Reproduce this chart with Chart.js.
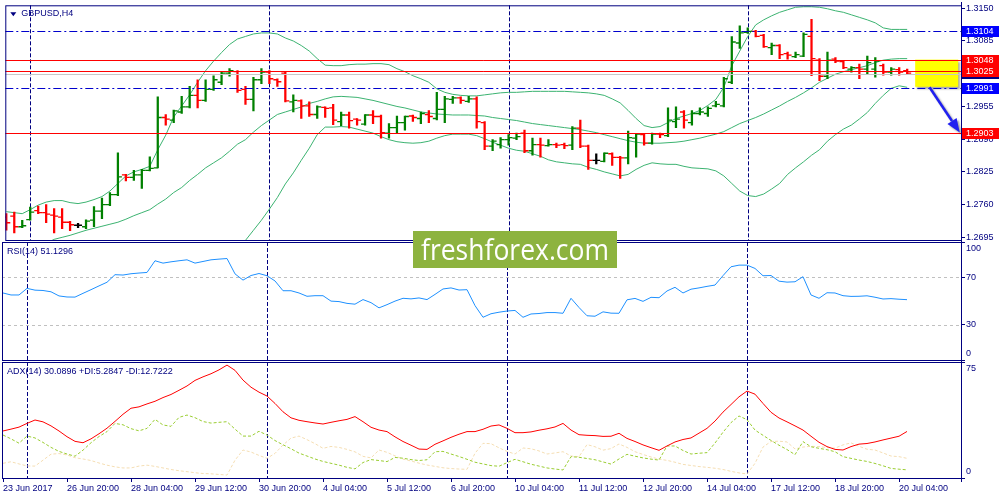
<!DOCTYPE html>
<html>
<head>
<meta charset="utf-8">
<script src="https://cdn.jsdelivr.net/npm/chart.js@4.4.1/dist/chart.umd.min.js"></script>
<style>
html,body{margin:0;padding:0;background:#fff;}
#wrap{position:relative;width:1000px;height:500px;overflow:hidden;background:#fff;}
canvas{position:absolute;left:0;top:0;}
</style>
</head>
<body>
<div id="wrap">
<canvas id="cMain" width="1000" height="500"></canvas>
<canvas id="cRsi" width="1000" height="500"></canvas>
<canvas id="cAdx" width="1000" height="500"></canvas>
</div>
<script>
// ================= DATA =================
const symbol = 'GBPUSD';
const timeframe = 'H4';
const tickLabels = ['23 Jun 2017','26 Jun 20:00','28 Jun 04:00','29 Jun 12:00','30 Jun 20:00','4 Jul 04:00','5 Jul 12:00','6 Jul 20:00','10 Jul 04:00','11 Jul 12:00','12 Jul 20:00','14 Jul 04:00','17 Jul 12:00','18 Jul 20:00','20 Jul 04:00'];
const barsPerLabel = 8;
const weekStartBars = [3, 33, 63, 93];
const priceTicks = [1.3150, 1.3085, 1.3020, 1.2955, 1.2890, 1.2825, 1.2760, 1.2695];
const rsiTicks = [0, 30, 70, 100];
const rsiLevels = [70, 30];
const adxTicks = [0, 75];

const opens = [1.2735,1.2737,1.2716,1.2730,1.2748,1.2744,1.2739,1.2735,1.2725,1.2719,
1.2716,1.2729,1.2747,1.2760,1.2780,1.2819,1.2814,1.2819,1.2828,1.2833,
1.2933,1.2928,1.2944,1.2954,1.2977,1.2967,1.2989,1.3003,1.3021,1.3024,
1.2989,1.2969,1.3008,1.3023,1.3008,1.3021,1.2964,1.2966,1.2956,1.2939,
1.2953,1.2952,1.2925,1.2938,1.2930,1.2920,1.2938,1.2935,1.2902,1.2913,
1.2923,1.2936,1.2931,1.2939,1.2931,1.2949,1.2969,1.2972,1.2965,1.2970,
1.2923,1.2876,1.2879,1.2889,1.2892,1.2902,1.2867,1.2879,1.2877,1.2879,
1.2879,1.2878,1.2912,1.2876,1.2848,1.2846,1.2861,1.2854,1.2853,1.2892,
1.2899,1.2882,1.2900,1.2897,1.2925,1.2944,1.2923,1.2941,1.2941,1.2956,
1.2956,1.3003,1.3081,1.3102,1.3104,1.3096,1.3072,1.3076,1.3060,1.3054,
1.3055,1.3094,1.3047,1.3015,1.3049,1.3044,1.3029,1.3032,1.3029,1.3029,
1.3036,1.3023,1.3028,1.3026];
const highs = [1.2742,1.2745,1.2729,1.2755,1.2757,1.2760,1.2752,1.2752,1.2727,1.2723,
1.2730,1.2756,1.2773,1.2784,1.2863,1.2820,1.2828,1.2830,1.2855,1.2974,
1.2939,1.2948,1.2975,1.2995,1.3008,1.3008,1.3016,1.3023,1.3030,1.3026,
1.2995,1.3013,1.3030,1.3026,1.3010,1.3023,1.2978,1.2968,1.2964,1.2956,
1.2954,1.2959,1.2944,1.2944,1.2931,1.2939,1.2947,1.2938,1.2921,1.2936,
1.2936,1.2938,1.2944,1.2947,1.2983,1.2975,1.2975,1.2974,1.2975,1.2974,
1.2925,1.2889,1.2893,1.2899,1.2902,1.2908,1.2892,1.2892,1.2889,1.2882,
1.2882,1.2915,1.2928,1.2878,1.2861,1.2863,1.2863,1.2856,1.2906,1.2900,
1.2900,1.2902,1.2902,1.2952,1.2954,1.2947,1.2947,1.2952,1.2954,1.2965,
1.3013,1.3094,1.3115,1.3111,1.3106,1.3098,1.3081,1.3078,1.3063,1.3063,
1.3101,1.3128,1.3050,1.3063,1.3052,1.3045,1.3034,1.3039,1.3055,1.3052,
1.3039,1.3032,1.3032,1.3029];
const lows = [1.2709,1.2704,1.2714,1.2729,1.2742,1.2724,1.2704,1.2712,1.2708,1.2714,
1.2712,1.2716,1.2732,1.2758,1.2778,1.2807,1.2808,1.2792,1.2827,1.2833,
1.2918,1.2923,1.2941,1.2952,1.2952,1.2965,1.2987,1.2998,1.3015,1.2983,
1.2959,1.2946,1.3000,1.3000,1.2995,1.2964,1.2944,1.2931,1.2935,1.2931,
1.2933,1.2919,1.2917,1.2912,1.2918,1.2918,1.2921,1.2892,1.2892,1.2902,
1.2908,1.2925,1.2921,1.2923,1.2928,1.2923,1.2961,1.2961,1.2963,1.2912,
1.2869,1.2867,1.2872,1.2878,1.2889,1.2863,1.2858,1.2854,1.2876,1.2873,
1.2871,1.2869,1.2873,1.2830,1.2841,1.2845,1.2838,1.2812,1.2841,1.2854,
1.2878,1.2880,1.2893,1.2895,1.2913,1.2912,1.2918,1.2938,1.2935,1.2954,
1.2954,1.3000,1.3070,1.3100,1.3093,1.3072,1.3058,1.3050,1.3049,1.3052,
1.3054,1.3016,1.3006,1.3010,1.3042,1.3030,1.3023,1.3010,1.3019,1.3013,
1.3017,1.3017,1.3017,1.3019];
const closes = [1.2724,1.2716,1.2718,1.2745,1.2744,1.2741,1.2737,1.2725,1.2720,1.2719,
1.2727,1.2747,1.2760,1.2780,1.2815,1.2814,1.2819,1.2828,1.2832,1.2933,
1.2930,1.2946,1.2954,1.2977,1.2967,1.2989,1.3008,1.3021,1.3026,1.2987,
1.2969,1.3008,1.3023,1.3010,1.3004,1.2966,1.2967,1.2956,1.2939,1.2954,
1.2951,1.2928,1.2938,1.2927,1.2928,1.2938,1.2935,1.2903,1.2913,1.2923,
1.2935,1.2933,1.2941,1.2935,1.2949,1.2970,1.2972,1.2967,1.2970,1.2925,
1.2876,1.2886,1.2889,1.2893,1.2895,1.2867,1.2879,1.2878,1.2879,1.2878,
1.2877,1.2912,1.2876,1.2848,1.2848,1.2862,1.2854,1.2853,1.2893,1.2900,
1.2882,1.2900,1.2899,1.2928,1.2930,1.2928,1.2941,1.2944,1.2951,1.2959,
1.3010,1.3083,1.3101,1.3104,1.3094,1.3074,1.3076,1.3058,1.3057,1.3058,
1.3098,1.3050,1.3015,1.3047,1.3045,1.3032,1.3032,1.3029,1.3042,1.3045,
1.3023,1.3029,1.3023,1.3021];

const bbUpper = [1.2746,1.2744,1.2742,1.2750,1.2759,1.2765,1.2768,1.2768,1.2764,1.2762,
1.2765,1.2770,1.2776,1.2787,1.2802,1.2817,1.2825,1.2830,1.2836,1.2869,
1.2898,1.2934,1.2956,1.2978,1.3003,1.3026,1.3045,1.3062,1.3078,1.3089,
1.3094,1.3099,1.3101,1.3101,1.3099,1.3091,1.3085,1.3076,1.3065,1.3050,
1.3037,1.3036,1.3036,1.3038,1.3039,1.3039,1.3040,1.3040,1.3038,1.3030,
1.3024,1.3016,1.3010,1.3003,1.2990,1.2983,1.2979,1.2977,1.2976,1.2976,
1.2978,1.2980,1.2982,1.2983,1.2983,1.2984,1.2985,1.2985,1.2985,1.2985,
1.2985,1.2984,1.2983,1.2982,1.2980,1.2977,1.2970,1.2962,1.2947,1.2931,
1.2917,1.2913,1.2915,1.2923,1.2931,1.2936,1.2941,1.2947,1.2957,1.2969,
1.2993,1.3036,1.3065,1.3094,1.3117,1.3127,1.3135,1.3142,1.3147,1.3152,
1.3153,1.3153,1.3152,1.3149,1.3145,1.3142,1.3137,1.3132,1.3127,1.3121,
1.3111,1.3108,1.3108,1.3108];
const bbMiddle = [null,null,null,null,null,1.2683,1.2691,1.2695,1.2699,1.2704,
1.2709,1.2713,1.2717,1.2721,1.2725,1.2731,1.2738,1.2744,1.2750,1.2761,
1.2771,1.2784,1.2794,1.2808,1.2820,1.2833,1.2843,1.2853,1.2866,1.2880,
1.2889,1.2904,1.2917,1.2928,1.2939,1.2944,1.2949,1.2954,1.2961,1.2965,
1.2970,1.2974,1.2975,1.2974,1.2973,1.2970,1.2967,1.2963,1.2959,1.2955,
1.2952,1.2948,1.2944,1.2942,1.2940,1.2939,1.2938,1.2938,1.2938,1.2937,
1.2936,1.2933,1.2931,1.2929,1.2927,1.2924,1.2921,1.2919,1.2917,1.2915,
1.2913,1.2911,1.2909,1.2906,1.2903,1.2899,1.2895,1.2891,1.2887,1.2884,
1.2882,1.2882,1.2882,1.2883,1.2884,1.2886,1.2889,1.2892,1.2896,1.2900,
1.2905,1.2913,1.2921,1.2927,1.2933,1.2940,1.2948,1.2956,1.2965,1.2973,
1.2982,1.2992,1.3003,1.3011,1.3019,1.3024,1.3028,1.3032,1.3036,1.3042,
1.3047,1.3049,1.3050,1.3050];
const bbLower = [null,null,null,null,null,null,null,null,null,null,
null,null,null,null,null,null,null,null,null,null,
null,null,null,null,null,null,null,null,null,1.2673,
1.2689,1.2709,1.2729,1.2751,1.2774,1.2801,1.2823,1.2848,1.2872,1.2899,
1.2914,1.2914,1.2915,1.2914,1.2910,1.2906,1.2902,1.2895,1.2889,1.2885,
1.2883,1.2882,1.2883,1.2886,1.2892,1.2897,1.2900,1.2900,1.2900,1.2897,
1.2891,1.2884,1.2878,1.2872,1.2868,1.2866,1.2861,1.2856,1.2849,1.2845,
1.2843,1.2841,1.2840,1.2834,1.2830,1.2825,1.2821,1.2817,1.2820,1.2830,
1.2838,1.2843,1.2841,1.2840,1.2840,1.2836,1.2833,1.2832,1.2831,1.2827,
1.2817,1.2802,1.2787,1.2778,1.2776,1.2781,1.2791,1.2802,1.2820,1.2833,
1.2845,1.2858,1.2869,1.2886,1.2899,1.2910,1.2918,1.2930,1.2943,1.2961,
1.2977,1.2991,1.2996,1.2993];

const rsi = [56.8,55.1,55.1,60.7,59.2,58.9,57.8,54.3,53.4,53.3,
56.5,59.6,62.8,65.9,72.3,72.0,73.1,73.7,74.2,84.1,
82.1,83.2,84.1,84.9,82.1,83.5,84.9,85.5,86.0,73.0,
67.7,71.6,73.3,71.4,67.0,58.7,58.7,56.8,54.0,54.5,
54.5,49.9,49.5,48.0,47.3,51.2,48.6,44.2,46.9,49.9,
52.3,51.8,52.6,51.2,55.6,60.2,61.1,59.3,59.6,46.1,
36.2,39.2,40.5,41.5,42.0,36.2,39.0,39.4,40.2,40.2,
39.6,52.3,44.5,37.5,37.1,40.8,39.7,39.6,51.0,52.2,
49.7,53.1,52.8,58.5,61.6,56.8,60.0,61.1,62.4,63.5,
71.5,79.0,80.4,80.4,77.6,71.4,71.6,66.8,66.0,66.3,
70.6,55.1,52.3,57.0,56.8,54.5,53.9,54.0,54.4,53.2,
51.7,52.0,51.5,51.1296];

const adx = [30.4,31.6,32.9,35.3,37.5,36.3,33.7,30.4,26.7,23.7,
22.8,25.3,28.6,32.2,36.6,41.2,45.1,46.0,47.9,49.6,
52.0,54.0,56.7,59.5,63.1,65.4,67.4,69.9,73.0,69.6,
63.3,58.7,55.5,53.0,48.2,42.8,38.9,37.3,36.4,35.6,
34.9,36.0,37.0,37.9,39.7,36.4,32.8,31.0,30.0,26.6,
23.6,21.2,18.7,18.5,21.8,24.0,26.3,28.3,30.0,30.0,
31.5,33.6,34.3,32.1,29.3,29.3,29.8,30.9,31.8,33.0,
35.3,31.0,28.0,27.6,27.4,26.9,27.0,28.9,25.6,23.6,
21.4,19.6,17.9,20.7,23.3,24.9,25.9,29.0,32.1,36.8,
42.6,47.5,52.5,56.2,54.2,48.2,42.5,38.8,36.3,33.7,
31.0,27.0,23.1,20.3,18.5,18.1,20.3,21.9,22.3,23.3,
24.6,25.8,27.0,30.0896];
const plusDI = [27.8,25.3,22.5,27.1,25.9,23.0,19.8,17.2,15.5,14.1,
18.0,22.8,26.8,30.0,35.3,34.4,31.9,30.5,32.1,37.9,
34.3,33.4,39.2,40.7,39.0,36.5,35.5,36.0,36.4,31.6,
27.1,27.1,30.2,27.8,24.2,21.5,18.9,16.1,14.2,12.3,
10.7,9.5,8.3,6.9,5.9,10.0,11.9,11.3,10.6,13.3,
12.8,11.9,11.3,11.8,17.0,17.2,15.5,13.9,12.1,10.2,
9.1,8.0,7.6,9.9,12.1,10.5,8.9,7.7,6.5,5.8,
5.2,13.8,13.4,12.6,11.8,10.4,9.0,12.3,15.3,14.1,
13.0,12.2,11.6,20.7,20.7,17.8,15.5,16.0,16.4,22.6,
29.6,35.8,40.1,37.7,31.0,27.6,24.3,21.2,18.4,15.1,
23.5,20.2,19.2,18.3,17.0,13.8,12.7,11.6,10.7,9.4,
7.9,6.2,5.7,5.2847];
const minusDI = [9.5,10.5,9.1,7.8,7.7,11.5,15.4,15.8,14.9,13.1,
12.3,11.3,9.7,8.3,7.2,6.5,6.5,7.7,8.3,7.5,
6.5,5.5,4.7,4.1,3.4,2.9,2.7,2.3,1.9,11.5,
18.1,16.8,14.6,12.7,15.9,21.3,25.8,27.1,24.8,22.2,
19.2,20.4,19.8,18.5,16.9,14.0,13.0,18.1,16.6,14.3,
12.2,11.0,9.6,8.4,7.5,6.6,6.1,5.8,5.6,16.0,
22.4,22.2,19.5,17.2,15.5,19.4,18.9,17.5,15.5,16.2,
17.0,14.2,13.8,21.6,20.2,18.0,19.0,22.0,19.8,17.0,
15.2,13.6,12.2,11.4,10.2,8.8,8.1,7.4,6.9,6.3,
5.5,4.3,3.3,2.6,9.5,20.0,23.6,23.8,23.3,18.8,
20.0,20.5,20.3,19.7,19.3,21.4,22.7,20.5,18.6,18.1,
16.2,14.2,13.8,12.7222];

// horizontal analysis levels (price, kind)
const levelPrices = [1.3104, 1.3048, 1.3025, 1.2991, 1.2903];
const levelKinds  = ['channel', 'resistance', 'resistance', 'channel', 'target'];
// yellow zone and arrow anchors (bar index, price)
const zoneBars = [114, 119.4];
const zonePrices = [1.3048, 1.2994];
const arrowBars = [115.8, 119.6];
const arrowPrices = [1.2993, 1.2903];

// ================= STYLE =================
const C = { navy:'#000080', up:'#008000', down:'#FF0000', doji:'#000000', band:'#3CB371',
  rsi:'#1E90FF', adx:'#FF0000', pdi:'#9ACD32', mdi:'#F5DEB3', level:'#C0C0C0', bid:'#C8C8C8' };
const KIND_STYLE = {
  channel:    { line:'#0000CD', tag:'#0000FF', dash:[8,3,2,3], width:1 },
  resistance: { line:'#FF0000', tag:'#FF0000', dash:[], width:1 },
  target:     { line:'#FF0000', tag:'#FF0000', dash:[], width:1 }
};
const FAMILY = '"Liberation Sans", Arial, sans-serif';
const FONT = { family: FAMILY, size: 9 };
const fontCss = (s) => `${s || 9}px ${FAMILY}`;
Chart.defaults.font.family = FAMILY;
Chart.defaults.font.size = 9;
Chart.defaults.color = C.navy;

const X_LEFT = -0.125, X_RIGHT = 119.75;
const series = arr => arr.map((v, i) => ({ x: i, y: v }));
const barColor = i => closes[i] > opens[i] ? C.up : (closes[i] < opens[i] ? C.down : C.doji);
const barColors = opens.map((_, i) => barColor(i));

function xAxis(show) {
  const ax = {
    type: 'linear', min: X_LEFT, max: X_RIGHT, display: show, offset: false,
    afterBuildTicks: s => { s.ticks = tickLabels.map((_, k) => ({ value: k * barsPerLabel })); },
    ticks: { align: 'start', padding: 1, color: C.navy, font: FONT, maxRotation: 0, minRotation: 0, autoSkip: false,
      callback: (v, k) => tickLabels[k] },
    grid: { offset: false, drawOnChartArea: false, drawTicks: true, tickLength: 4, tickColor: C.navy, color: C.navy },
    border: { display: false }
  };
  if (show) ax.afterFit = s => { s.height = 22; s.paddingLeft = 0; s.paddingRight = 0; };
  return ax;
}
function edgeLabel(lo, hi) {
  return v => v === hi ? ['', String(v)] : (v === lo ? [String(v), ''] : String(v));
}
function yAxis(min, max, ticks, cb, lh) {
  return {
    type: 'linear', position: 'right', min, max,
    afterBuildTicks: s => { s.ticks = ticks.map(v => ({ value: v })); },
    ticks: { color: C.navy, font: { family: FAMILY, size: 9, lineHeight: lh || 1.2 }, padding: 1, callback: cb },
    grid: { drawOnChartArea: false, drawTicks: true, tickLength: 4, tickColor: C.navy, color: C.navy },
    border: { display: false },
    afterFit: s => { s.width = 39; s.paddingTop = 0; s.paddingBottom = 0; }
  };
}
const baseOpts = (pad) => ({
  responsive: false, animation: false, events: [],
  layout: { padding: pad },
  plugins: { legend: { display: false }, tooltip: { enabled: false }, title: { display: false } }
});

function paneDecor(cfg) {
  return {
    id: 'paneDecor',
    beforeDatasetsDraw(chart) {
      const { ctx, chartArea: a, scales } = chart;
      ctx.save();
      ctx.strokeStyle = C.navy; ctx.lineWidth = 1; ctx.setLineDash([4, 2]);
      weekStartBars.forEach(b => {
        const px = Math.round(scales.x.getPixelForValue(b)) + 0.5;
        ctx.beginPath(); ctx.moveTo(px, a.top); ctx.lineTo(px, a.bottom); ctx.stroke();
      });
      ctx.restore();
      if (cfg.under) cfg.under(chart);
    },
    afterDatasetsDraw(chart) { if (cfg.over) cfg.over(chart); },
    afterDraw(chart) {
      const { ctx, chartArea: a } = chart;
      ctx.save();
      ctx.strokeStyle = C.navy; ctx.lineWidth = 1; ctx.setLineDash([]);
      ctx.strokeRect(a.left + 0.5, a.top + 0.5, a.right - a.left, a.bottom - a.top);
      ctx.fillStyle = C.navy; ctx.font = fontCss(9); ctx.textBaseline = 'middle'; ctx.textAlign = 'left';
      ctx.fillText(cfg.title, a.left + cfg.titleDx, a.top + cfg.titleDy);
      ctx.restore();
      if (cfg.top) cfg.top(chart);
    }
  };
}

// ================= MAIN PRICE PANE =================
new Chart(document.getElementById('cMain'), {
  type: 'bar',
  data: { datasets: [
    { type: 'line', label: 'BB upper', data: series(bbUpper), borderColor: C.band, borderWidth: 1, pointRadius: 0, order: 5 },
    { type: 'line', label: 'BB middle', data: series(bbMiddle), borderColor: C.band, borderWidth: 1, pointRadius: 0, order: 5 },
    { type: 'line', label: 'BB lower', data: series(bbLower), borderColor: C.band, borderWidth: 1, pointRadius: 0, order: 5 },
    { type: 'bar', label: 'High-Low', data: highs.map((h, i) => ({ x: i, y: [lows[i], h] })),
      backgroundColor: barColors, borderWidth: 0, barThickness: 1.6, order: 3 },
    { type: 'line', label: 'Open', data: opens.map((o, i) => ({ x: i - 0.25, y: o })), showLine: false,
      pointStyle: 'line', pointRadius: 2, pointBorderWidth: 1.3, pointBorderColor: barColors, order: 2 },
    { type: 'line', label: 'Close', data: closes.map((c, i) => ({ x: i + 0.25, y: c })), showLine: false,
      pointStyle: 'line', pointRadius: 2, pointBorderWidth: 1.3, pointBorderColor: barColors, order: 1 }
  ]},
  options: Object.assign(baseOpts({ left: 2, top: 2, right: 0, bottom: 260 }), {
    scales: { x: xAxis(false), y: yAxis(1.26897, 1.31559, priceTicks, v => v.toFixed(4)) }
  }),
  plugins: [paneDecor({
    title: symbol + ',' + timeframe, titleDx: 16, titleDy: 8.7,
    over(chart) {
      const { ctx, chartArea: a, scales: { x: xs, y: ys } } = chart;
      ctx.save();
      // yellow zone
      const zx0 = xs.getPixelForValue(zoneBars[0]), zx1 = xs.getPixelForValue(zoneBars[1]);
      const zy0 = ys.getPixelForValue(zonePrices[0]), zy1 = ys.getPixelForValue(zonePrices[1]);
      ctx.shadowColor = 'rgba(0,0,0,0.35)'; ctx.shadowOffsetX = 2; ctx.shadowOffsetY = 2; ctx.shadowBlur = 2;
      ctx.fillStyle = '#FFFF00';
      ctx.fillRect(zx0, zy0, zx1 - zx0, zy1 - zy0);
      ctx.shadowColor = 'transparent';
      // bid line
      const by = Math.round(ys.getPixelForValue(closes[closes.length - 1])) + 0.5;
      ctx.strokeStyle = C.bid; ctx.lineWidth = 1; ctx.setLineDash([]);
      ctx.beginPath(); ctx.moveTo(a.left, by + 1); ctx.lineTo(a.right, by + 1); ctx.stroke();
      // levels
      levelPrices.forEach((p, k) => {
        const st = KIND_STYLE[levelKinds[k]];
        const py = Math.round(ys.getPixelForValue(p)) + 0.5;
        ctx.strokeStyle = st.line; ctx.lineWidth = st.width; ctx.setLineDash(st.dash);
        ctx.beginPath(); ctx.moveTo(a.left, py); ctx.lineTo(a.right, py); ctx.stroke();
      });
      ctx.setLineDash([]);
      // arrow
      const p0 = { x: xs.getPixelForValue(arrowBars[0]), y: ys.getPixelForValue(arrowPrices[0]) };
      const p1 = { x: xs.getPixelForValue(arrowBars[1]), y: ys.getPixelForValue(arrowPrices[1]) };
      const ang = Math.atan2(p1.y - p0.y, p1.x - p0.x);
      const hl = 14, hw = 5.5;
      const bx = p1.x - hl * Math.cos(ang), byy = p1.y - hl * Math.sin(ang);
      ctx.shadowColor = 'rgba(0,0,0,0.35)'; ctx.shadowOffsetX = 2; ctx.shadowOffsetY = 2; ctx.shadowBlur = 2;
      ctx.strokeStyle = '#2020F0'; ctx.fillStyle = '#2020F0'; ctx.lineWidth = 2.5;
      ctx.beginPath(); ctx.moveTo(p0.x, p0.y); ctx.lineTo(bx, byy); ctx.stroke();
      ctx.beginPath(); ctx.moveTo(p1.x, p1.y);
      ctx.lineTo(bx + hw * Math.sin(ang), byy - hw * Math.cos(ang));
      ctx.lineTo(bx - hw * Math.sin(ang), byy + hw * Math.cos(ang));
      ctx.closePath(); ctx.fill();
      ctx.restore();
    },
    top(chart) {
      const { ctx, chartArea: a, scales: { y: ys } } = chart;
      ctx.save();
      // triangle before symbol
      ctx.fillStyle = C.navy;
      ctx.beginPath(); ctx.moveTo(a.left + 5, a.top + 7); ctx.lineTo(a.left + 11, a.top + 7); ctx.lineTo(a.left + 8, a.top + 11); ctx.closePath(); ctx.fill();
      const tag = (price, bg) => {
        const py = Math.round(ys.getPixelForValue(price));
        ctx.fillStyle = bg; ctx.fillRect(ys.left + 1, py - 5, 37, 11);
        ctx.fillStyle = '#FFFFFF'; ctx.font = fontCss(9); ctx.textBaseline = 'middle'; ctx.textAlign = 'left';
        ctx.fillText(price.toFixed(4), ys.left + 5, py + 0.5);
      };
      tag(closes[closes.length - 1], C.navy);
      levelPrices.forEach((p, k) => tag(p, KIND_STYLE[levelKinds[k]].tag));
      ctx.restore();
    }
  })]
});

// ================= RSI PANE =================
new Chart(document.getElementById('cRsi'), {
  type: 'line',
  data: { datasets: [
    { label: 'RSI(14)', data: series(rsi), borderColor: C.rsi, borderWidth: 1, pointRadius: 0, tension: 0 }
  ]},
  options: Object.assign(baseOpts({ left: 2, top: 242, right: 0, bottom: 140 }), {
    scales: { x: xAxis(false), y: yAxis(0, 100, rsiTicks, edgeLabel(0, 100), 1.4) }
  }),
  plugins: [paneDecor({
    title: 'RSI(14) ' + rsi[rsi.length - 1].toFixed(4), titleDx: 5, titleDy: 10,
    under(chart) {
      const { ctx, chartArea: a, scales: { y: ys } } = chart;
      ctx.save();
      ctx.strokeStyle = C.level; ctx.lineWidth = 1; ctx.setLineDash([3, 3]);
      rsiLevels.forEach(l => {
        const py = Math.round(ys.getPixelForValue(l)) + 0.5;
        ctx.beginPath(); ctx.moveTo(a.left, py); ctx.lineTo(a.right, py); ctx.stroke();
      });
      ctx.restore();
    }
  })]
});

// ================= ADX PANE =================
new Chart(document.getElementById('cAdx'), {
  type: 'line',
  data: { datasets: [
    { label: 'ADX', data: series(adx), borderColor: C.adx, borderWidth: 1, pointRadius: 0, order: 1 },
    { label: '+DI', data: series(plusDI), borderColor: C.pdi, borderWidth: 1, borderDash: [3, 2], pointRadius: 0, order: 2 },
    { label: '-DI', data: series(minusDI), borderColor: C.mdi, borderWidth: 1, borderDash: [3, 2], pointRadius: 0, order: 3 }
  ]},
  options: Object.assign(baseOpts({ left: 2, top: 362, right: 0, bottom: 0 }), {
    scales: { x: xAxis(true), y: yAxis(0, 75, adxTicks, edgeLabel(0, 75), 1.4) }
  }),
  plugins: [paneDecor({
    title: 'ADX(14) ' + adx[adx.length - 1].toFixed(4) + ' +DI:' + plusDI[plusDI.length - 1].toFixed(4) + ' -DI:' + minusDI[minusDI.length - 1].toFixed(4),
    titleDx: 5, titleDy: 10,
    top(chart) {
      const { ctx, chartArea: a } = chart;
      ctx.save();
      // continuous price-axis line through all panes
      ctx.strokeStyle = C.navy; ctx.lineWidth = 1;
      ctx.beginPath(); ctx.moveTo(a.right + 0.5, 2); ctx.lineTo(a.right + 0.5, a.bottom + 4); ctx.stroke();
      // watermark
      ctx.fillStyle = '#8DB33F';
      ctx.fillRect(413, 231, 204, 37);
      ctx.fillStyle = '#FFFFFF';
      ctx.font = '29px "Open Sans", sans-serif';
      ctx.textAlign = 'center'; ctx.textBaseline = 'alphabetic';
      ctx.fillText('freshforex.com', 515, 260, 188);
      ctx.restore();
    }
  })]
});
</script>
</body>
</html>
